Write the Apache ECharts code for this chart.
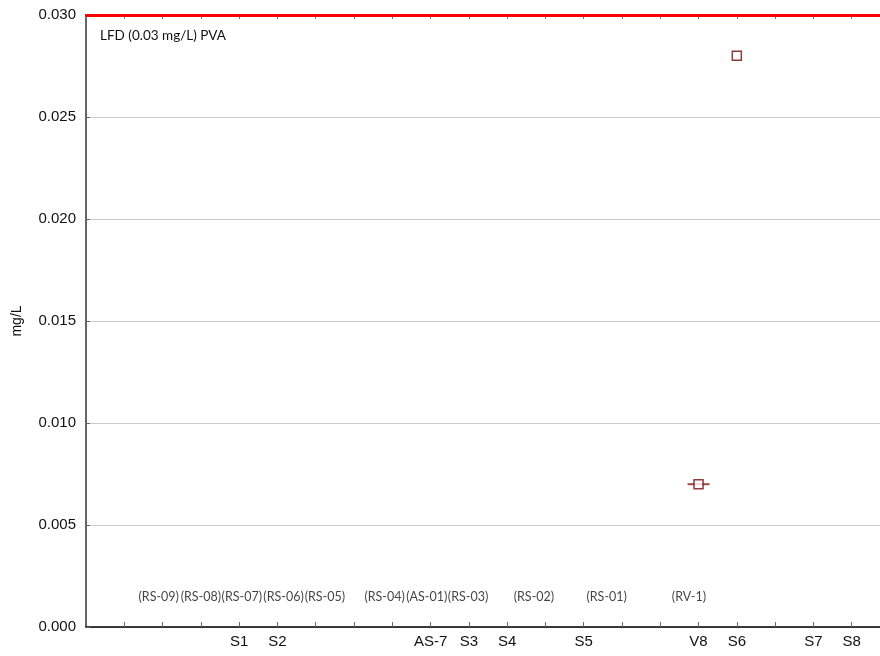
<!DOCTYPE html>
<html>
<head>
<meta charset="utf-8">
<script src="https://cdn.jsdelivr.net/npm/echarts@6/dist/echarts.min.js"></script>
<style>
  html, body { margin: 0; padding: 0; background: #fff; }
  #chart { width: 880px; height: 656px; }
</style>
</head>
<body>
<div id="chart"></div>
<script>
// Sampling sites along the x axis (tick position -> site code)
const siteTicks = [4, 5, 9, 10, 11, 13, 16, 17, 19, 20];
const siteNames = ['S1', 'S2', 'AS-7', 'S3', 'S4', 'S5', 'V8', 'S6', 'S7', 'S8'];

// Station codes written near the bottom of the plot
const stationX = [1.9, 3.0, 4.07, 5.16, 6.24, 7.8, 8.9, 9.98, 11.7, 13.6, 15.75];
const stationCodes = ['(RS-09)', '(RS-08)', '(RS-07)', '(RS-06)', '(RS-05)', '(RS-04)', '(AS-01)', '(RS-03)', '(RS-02)', '(RS-01)', '(RV-1)'];
const stationLabelLevel = 0.00147;

// Measured concentrations (mg/L)
const measuredX = [16, 17];
const measuredY = [0.007, 0.028];

// Range whisker drawn on the V8 measurement
const whiskerX = [16];
const whiskerY = [0.007];

// Limit value (LFD) for PVA
const limitValue = 0.03;
const limitLabel = 'LFD (0.03 mg/L) PVA';

// Y axis ticks
const yMin = 0, yMax = 0.03, yStep = 0.005;

const chart = echarts.init(document.getElementById('chart'));

const labelFont = 'Lato';
const axisFont = 'Liberation Sans';

chart.setOption({
  animation: false,
  grid: { left: 86, right: 0, top: 15, bottom: 29, containLabel: false },
  xAxis: [
    {
      type: 'value', min: 0, max: 20.74, interval: 1, position: 'bottom',
      axisLine: { show: true, onZero: false, lineStyle: { color: '#000', width: 1.5 } },
      axisTick: { show: true, inside: true, length: 5, lineStyle: { color: '#666' } },
      splitLine: { show: false },
      axisLabel: {
        margin: 7, fontFamily: axisFont, fontSize: 15, color: '#111',
        showMinLabel: false, showMaxLabel: false,
        formatter: v => { const i = siteTicks.indexOf(Math.round(v)); return i >= 0 ? siteNames[i] : ''; }
      }
    },
    {
      type: 'value', min: 0, max: 20.74, interval: 1, position: 'top',
      axisLine: { show: true, onZero: false, lineStyle: { color: '#000', width: 1.5 } },
      axisTick: { show: true, inside: true, length: 4, lineStyle: { color: '#777' } },
      splitLine: { show: false },
      axisLabel: { show: false }
    }
  ],
  yAxis: {
    type: 'value', min: yMin, max: yMax, interval: yStep,
    name: 'mg/L', nameLocation: 'middle', nameGap: 62, nameRotate: 90,
    nameTextStyle: { fontFamily: axisFont, fontSize: 14, color: '#111' },
    axisLine: { show: true, onZero: false, lineStyle: { color: '#333', width: 1.5 } },
    axisTick: { show: true, inside: true, length: 4, lineStyle: { color: '#666' } },
    splitLine: { show: true, lineStyle: { color: '#cccccc', width: 1 } },
    axisLabel: { margin: 10, fontFamily: axisFont, fontSize: 15, color: '#111', formatter: v => v.toFixed(3) }
  },
  series: [
    {
      type: 'scatter', name: 'codes', silent: true,
      symbolSize: 0,
      data: stationX.map((x, i) => ({ value: [x, stationLabelLevel], name: stationCodes[i] })),
      label: {
        show: true, position: 'inside', formatter: p => p.name,
        fontFamily: labelFont, fontSize: 12.5, color: '#111'
      },
      markLine: {
        silent: true, symbol: 'none',
        lineStyle: { color: '#ff0000', width: 3, type: 'solid' },
        label: {
          show: true, position: 'insideStartBottom', formatter: limitLabel,
          fontFamily: labelFont, fontSize: 13.5, color: '#111', distance: [14, 14]
        },
        data: [{ yAxis: limitValue }]
      }
    },
    {
      type: 'scatter', name: 'whisker', silent: true,
      symbol: 'rect', symbolSize: [22, 2],
      itemStyle: { color: '#8b1a1a' },
      data: whiskerX.map((x, i) => [x, whiskerY[i]]),
      z: 3
    },
    {
      type: 'scatter', name: 'PVA', silent: true,
      symbol: 'rect', symbolSize: 9,
      itemStyle: { color: '#ffffff', borderColor: '#700a0a', borderWidth: 1.5 },
      data: measuredX.map((x, i) => [x, measuredY[i]]),
      z: 4
    }
  ]
});
</script>
</body>
</html>
